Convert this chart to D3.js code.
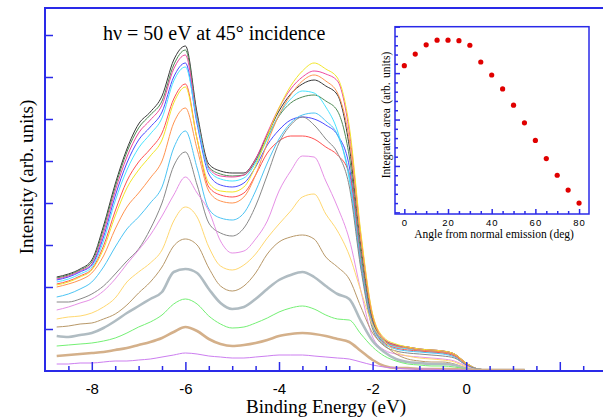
<!DOCTYPE html>
<html>
<head>
<meta charset="utf-8">
<script src="https://cdn.jsdelivr.net/npm/d3@7"></script>
<style>
    body { margin: 0; background: #fff; }
    .frame { fill: none; stroke: #2a2ae8; stroke-width: 2; }
    .insetFrame { fill: #fff; stroke: #2a2ae8; stroke-width: 1.5; }
    .axis path { display: none; }
    .axis line { stroke: #2a2ae8; stroke-width: 1.5; }
    .axis text { font-family: "Liberation Sans", Arial, sans-serif; fill: #000; }
    .spectrum { fill: none; stroke-linejoin: round; }
    .label { font-family: "Liberation Serif", "Times New Roman", serif; fill: #000; }
</style>
</head>
<body>
<script>
//wrap everything in a self-executing anonymous function
(function(){

    var energies = [-8.75, -8.5, -8.25, -8.0, -7.75, -7.5, -7.25, -7.0, -6.75, -6.5,
        -6.25, -6.0, -5.75, -5.5, -5.25, -5.0, -4.75, -4.5, -4.25, -4.0,
        -3.75, -3.5, -3.25, -3.0, -2.75, -2.5, -2.25, -2.0, -1.75, -1.5,
        -1.25, -1.0, -0.75, -0.5, -0.25, 0.0, 0.25, 0.5, 0.75, 1.0, 1.25];

    //spectra, intensity in arb. units (one y tick = 42), top curve first
    var spec1 = [94, 97, 102, 111, 145, 187, 222, 247, 259, 275, 311, 325, 258, 207, 200, 198, 198, 212, 236, 260, 277, 287, 291, 285, 276, 225, 125, 52, 31, 26, 24, 22, 21, 20, 17, 8, 2, 1, 1, 1, 1];
    var spec2 = [93, 96, 101, 109, 142, 184, 219, 243, 256, 270, 306, 321, 255, 204, 197, 195, 196, 210, 233, 255, 268, 274, 276, 270, 260, 215, 118, 50, 30, 25, 23, 21, 20, 19, 16, 7, 2, 1, 1, 1, 1];
    var spec3 = [92, 95, 100, 107, 138, 180, 214, 238, 251, 266, 302, 316, 252, 203, 195, 194, 196, 212, 238, 263, 282, 294, 300, 297, 290, 240, 135, 56, 32, 26, 24, 22, 21, 20, 17, 8, 2, 1, 1, 1, 1];
    var spec4 = [91, 94, 99, 106, 134, 175, 208, 231, 244, 259, 294, 308, 247, 197, 186, 184, 188, 204, 226, 241, 251, 254, 252, 246, 236, 205, 110, 47, 29, 25, 23, 21, 20, 19, 16, 7, 2, 1, 1, 1, 1];
    var spec5 = [89, 92, 97, 104, 130, 170, 201, 223, 237, 253, 290, 304, 250, 201, 192, 190, 193, 208, 232, 256, 272, 280, 278, 264, 240, 192, 105, 46, 29, 24, 22, 20, 19, 18, 15, 7, 2, 1, 1, 1, 1];
    var spec6 = [87, 90, 95, 102, 125, 160, 190, 209, 222, 238, 272, 287, 232, 184, 176, 174, 178, 196, 218, 230, 235, 235, 232, 224, 216, 198, 110, 46, 28, 23, 21, 20, 19, 18, 15, 7, 2, 1, 1, 1, 1];
    var spec7 = [86, 89, 94, 101, 122, 155, 183, 201, 215, 231, 268, 284, 232, 188, 180, 179, 184, 205, 235, 263, 285, 300, 308, 302, 293, 245, 138, 57, 33, 27, 24, 22, 21, 20, 17, 8, 2, 1, 1, 1, 1];
    var spec8 = [84, 87, 91, 98, 115, 142, 164, 178, 193, 210, 248, 263, 222, 180, 170, 168, 174, 196, 228, 256, 276, 290, 296, 290, 278, 232, 130, 54, 31, 25, 23, 21, 20, 19, 16, 7, 2, 1, 1, 1, 1];
    var spec9 = [74, 77, 82, 89, 104, 124, 142, 154, 168, 184, 223, 240, 203, 162, 153, 151, 158, 180, 208, 232, 248, 256, 258, 250, 236, 196, 108, 45, 27, 22, 20, 19, 18, 17, 14, 6, 2, 1, 1, 1, 1];
    var spec10 = [69, 69, 72, 77, 85, 97, 110, 122, 142, 168, 205, 219, 186, 148, 138, 135, 143, 165, 196, 228, 246, 254, 246, 232, 218, 185, 102, 42, 25, 20, 18, 17, 16, 15, 13, 6, 2, 1, 1, 1, 1];
    var spec11 = [61, 64, 68, 72, 80, 92, 107, 121, 136, 155, 176, 194, 178, 160, 130, 118, 120, 132, 150, 180, 200, 215, 214, 190, 164, 132, 80, 34, 21, 17, 15, 14, 13, 12, 10, 5, 1, 1, 1, 1, 1];
    var spec12 = [52, 54, 55, 58, 64, 73, 89, 99, 108, 121, 150, 164, 154, 124, 105, 101, 106, 117, 133, 147, 160, 174, 177, 157, 140, 116, 80, 46, 30, 19, 15, 13, 12, 11, 9, 4, 1, 1, 1, 1, 1];
    var spec13 = [44, 45, 47, 48, 52, 57, 66, 78, 89, 104, 125, 132, 126, 103, 85, 80, 85, 98, 117, 129, 134, 136, 132, 114, 104, 92, 64, 38, 26, 17, 12, 10, 9, 9, 7, 3, 1, 1, 1, 1, 1];
    var spec14 = [35, 34, 36, 38, 43, 50, 58, 65, 72, 79, 99, 102, 98, 82, 68, 62, 64, 72, 82, 91, 96, 99, 94, 85, 77, 72, 50, 30, 19, 12, 9, 8, 7, 7, 6, 2, 1, 1, 1, 1, 1];
    var spec15 = [25, 26, 27, 28, 30, 33, 38, 44, 49, 56, 67, 72, 67, 55, 47, 43, 44, 48, 53, 59, 63, 65, 62, 56, 52, 51, 37, 24, 15, 10, 7, 6, 5, 5, 4, 2, 1, 1, 1, 1, 1];
    var spec16 = [15, 16, 17, 18, 19, 21, 23, 26, 29, 33, 39, 44, 40, 32, 27, 25, 26, 28, 31, 35, 37, 38, 37, 35, 32, 29, 20, 11, 5, 3, 3, 2, 2, 2, 2, 1, 1, 1, 1, 1, 1];
    var spec17 = [7, 7, 8, 8, 9, 10, 10, 11, 12, 14, 16, 18, 17, 15, 14, 13, 13, 14, 15, 16, 16, 16, 15, 14, 13, 12, 9, 6, 4, 3, 2, 2, 2, 1, 1, 1, 0, 0, 0, 0, 0];

    var spectra = [spec1, spec2, spec3, spec4, spec5, spec6, spec7, spec8, spec9,
        spec10, spec11, spec12, spec13, spec14, spec15, spec16, spec17];

    //line colours and widths, same order as spectra
    var lineColors = ["#383838", "#4f8a55", "#f0489e", "#4a4aff", "#48e4ff", "#ff5050",
        "#f2e628", "#ff9450", "#4cc4f4", "#888888", "#e690e6", "#ffd870",
        "#b89868", "#b0bcc2", "#74f074", "#d4b08a", "#cc7ef0"];
    var lineWidths = [1, 1, 1, 1, 1, 1, 1, 1, 1, 1, 1, 1, 1, 2.6, 1, 2.6, 1];

    //tick labels of the main chart
    var xMajorTicks = [-8, -6, -4, -2, 0, 2];
    var xTickLabels = ["-8", "-6", "-4", "-2", "0", ""];
    var yTicks = [42, 84, 126, 168, 210, 252, 294, 336];

    //inset: integrated area versus emission angle
    var angles = [0, 5, 10, 15, 20, 25, 30, 35, 40, 45, 50, 55, 60, 65, 70, 75, 80];
    var areas = [3.16, 3.41, 3.61, 3.71, 3.71, 3.70, 3.60, 3.24, 2.96, 2.66, 2.31, 1.93, 1.55, 1.16, 0.80, 0.48, 0.20];
    var insetXMajor = [0, 20, 40, 60, 80];
    var insetYMajor = [0, 1, 2, 3, 4];

    //begin script
    setChart();

    function setChart(){
        var width = 603,
            height = 420;

        var svg = d3.select("body")
            .append("svg")
            .attr("width", width)
            .attr("height", height);

        //main scales
        var x = d3.scaleLinear()
            .domain([-9, 3])
            .range([45, 606.6]);

        var y = d3.scaleLinear()
            .domain([0, 363])
            .range([371, 8]);

        //spectra
        var line = d3.line()
            .x(function(d, i){ return x(energies[i]); })
            .y(function(d){ return y(d); })
            .curve(d3.curveMonotoneX);

        svg.selectAll(".spectrum")
            .data(spectra)
            .enter()
            .append("path")
            .attr("class", "spectrum")
            .attr("d", line)
            .style("stroke", function(d, i){ return lineColors[i]; })
            .style("stroke-width", function(d, i){ return lineWidths[i]; });

        //minor x ticks every 0.5 eV
        svg.append("g")
            .attr("class", "axis")
            .attr("transform", "translate(0,371)")
            .call(d3.axisBottom(x)
                .tickValues(d3.range(-8.5, 3, 0.5).filter(function(v){ return v % 2 != 0; }))
                .tickSize(-5)
                .tickFormat(""));

        //major x ticks with labels
        svg.append("g")
            .attr("class", "axis")
            .attr("transform", "translate(0,371)")
            .call(d3.axisBottom(x)
                .tickValues(xMajorTicks)
                .tickSize(-9)
                .tickPadding(12)
                .tickFormat(function(d, i){ return xTickLabels[i]; }))
            .selectAll("text")
            .style("font-size", "15px");

        //y ticks, no labels
        svg.append("g")
            .attr("class", "axis")
            .attr("transform", "translate(45,0)")
            .call(d3.axisRight(y)
                .tickValues(yTicks)
                .tickSize(8)
                .tickFormat(""));

        //frame (right edge falls outside the window)
        svg.append("rect")
            .attr("class", "frame")
            .attr("x", 45)
            .attr("y", 8)
            .attr("width", 570)
            .attr("height", 363);

        //titles
        svg.append("text")
            .attr("class", "label")
            .attr("x", 103)
            .attr("y", 40)
            .style("font-size", "20px")
            .text("h\u03bd = 50 eV at 45\u00b0 incidence");

        svg.append("text")
            .attr("class", "label")
            .attr("x", 326)
            .attr("y", 413)
            .attr("text-anchor", "middle")
            .style("font-size", "19px")
            .text("Binding Energy (eV)");

        svg.append("text")
            .attr("class", "label")
            .attr("transform", "translate(33,177) rotate(-90)")
            .attr("text-anchor", "middle")
            .style("font-size", "19px")
            .text("Intensity (arb. units)");

        setInset(svg);
    };

    //inset chart with the integrated areas
    function setInset(svg){
        var xi = d3.scaleLinear()
            .domain([-4.27, 84.55])
            .range([395, 589]);

        var yi = d3.scaleLinear()
            .domain([-0.035, 4.0])
            .range([214, 26.7]);

        svg.append("rect")
            .attr("class", "insetFrame")
            .attr("x", 395)
            .attr("y", 26.7)
            .attr("width", 194)
            .attr("height", 187.3);

        //bottom ticks
        svg.append("g")
            .attr("class", "axis")
            .attr("transform", "translate(0,214)")
            .call(d3.axisBottom(xi)
                .tickValues(angles.filter(function(a){ return a % 20 != 0; }))
                .tickSize(-3)
                .tickFormat(""));

        svg.append("g")
            .attr("class", "axis")
            .attr("transform", "translate(0,214)")
            .call(d3.axisBottom(xi)
                .tickValues(insetXMajor)
                .tickSize(-5)
                .tickPadding(5)
                .tickFormat(d3.format("d")))
            .selectAll("text")
            .style("font-size", "9.5px")
            .style("letter-spacing", "1px");

        //left ticks
        svg.append("g")
            .attr("class", "axis")
            .attr("transform", "translate(395,0)")
            .call(d3.axisRight(yi)
                .tickValues(d3.range(0.2, 4, 0.2).filter(function(v){ return Math.abs(v - Math.round(v)) > 0.01; }))
                .tickSize(3)
                .tickFormat(""));

        svg.append("g")
            .attr("class", "axis")
            .attr("transform", "translate(395,0)")
            .call(d3.axisRight(yi)
                .tickValues(insetYMajor)
                .tickSize(5)
                .tickFormat(""));

        //points
        svg.selectAll(".dot")
            .data(areas)
            .enter()
            .append("circle")
            .attr("class", "dot")
            .attr("cx", function(d, i){ return xi(angles[i]); })
            .attr("cy", function(d){ return yi(d); })
            .attr("r", 2.6)
            .style("fill", "#e00000");

        svg.append("text")
            .attr("class", "label")
            .attr("x", 494)
            .attr("y", 238)
            .attr("text-anchor", "middle")
            .style("font-size", "11.5px")
            .text("Angle from normal emission (deg)");

        svg.append("text")
            .attr("class", "label")
            .attr("transform", "translate(390,115) rotate(-90)")
            .attr("text-anchor", "middle")
            .style("font-size", "11.5px")
            .style("word-spacing", "1.5px")
            .text("Integrated area (arb. units)");
    };
})();
</script>
</body>
</html>
